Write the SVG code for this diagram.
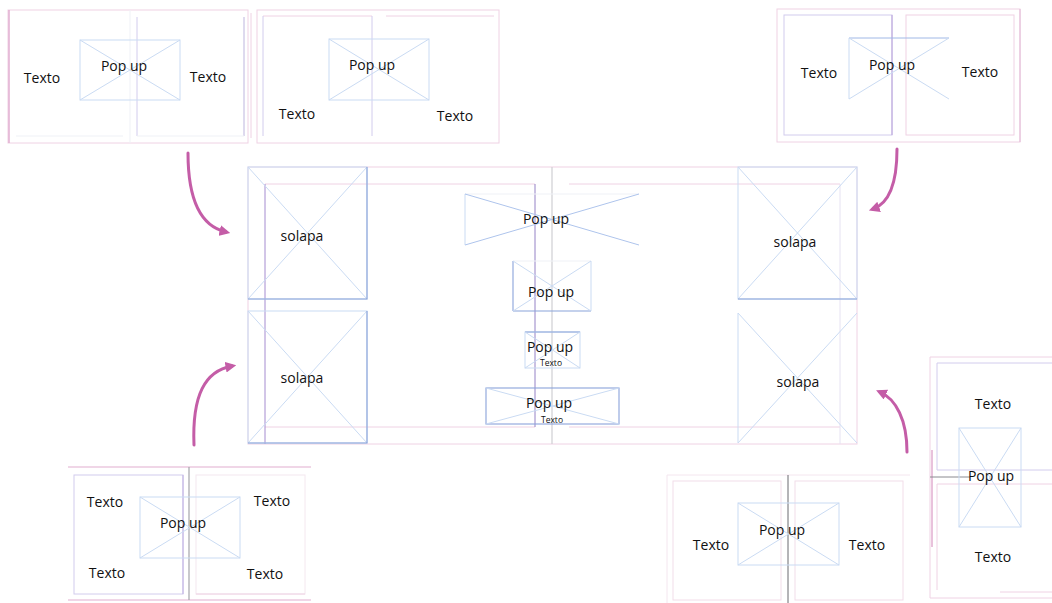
<svg xmlns="http://www.w3.org/2000/svg" width="1052" height="603" viewBox="0 0 1052 603">
<defs>
<style>
.t{font-family:"Open Sans","Noto Sans",sans-serif;font-size:14px;fill:#111;text-anchor:middle}
.ts{font-family:"Open Sans","Noto Sans",sans-serif;font-size:8.5px;fill:#111;text-anchor:middle}
.pk{fill:none;stroke:#efd2e4;stroke-width:1}
.pk2{fill:none;stroke:#e2aed0;stroke-width:1.5}
.lv{fill:none;stroke:#d2cced;stroke-width:1}
.pu{fill:none;stroke:#a58cd0;stroke-width:1}
.gr{fill:none;stroke:#cfcfd3;stroke-width:1.2}
.dk{fill:none;stroke:#6a6a70;stroke-width:1}
.bx{fill:none;stroke:#cadbf3;stroke-width:1}
.bs{fill:none;stroke:#8aa3da;stroke-width:1.1}
.fa{fill:none;stroke:#eff1f6;stroke-width:1}
.ar{fill:none;stroke:#c45da7;stroke-width:3;stroke-linecap:round}
</style>
<marker id="ah" viewBox="0 0 10 10" refX="6" refY="5" markerWidth="3.6" markerHeight="3.6" orient="auto">
<path d="M0,0 L10,5 L0,10 z" fill="#c45da7"/>
</marker>
</defs>
<rect width="1052" height="603" fill="#fff"/>

<g id="panel-top-left">
<rect class="pk" x="8" y="10" width="240" height="133"/>
<line class="pk2" x1="9" y1="10" x2="9" y2="143"/>
<line class="fa" x1="130" y1="10" x2="130" y2="143"/>
<line class="lv" x1="137" y1="17" x2="137" y2="136"/>
<line class="lv" x1="244" y1="17" x2="244" y2="136" style="stroke:#bdb5de"/>
<line class="fa" x1="16" y1="136" x2="123" y2="136"/>
<line class="fa" x1="137" y1="136" x2="244" y2="136"/>
<rect class="bx" x="80" y="40" width="100" height="60"/>
<line class="bx" x1="80" y1="40" x2="180" y2="100"/>
<line class="bx" x1="80" y1="100" x2="180" y2="40"/>
<text class="t" x="124" y="71">Pop up</text>
<text class="t" x="42" y="83">Texto</text>
<text class="t" x="208" y="82">Texto</text>
</g>

<g id="panel-top-middle">
<line class="pk" x1="251" y1="13" x2="251" y2="138"/>
<rect class="pk" x="257" y="10" width="242" height="133"/>
<line class="pk" x1="263" y1="16" x2="372" y2="16"/>
<line class="pk" x1="386" y1="16" x2="494" y2="16"/>
<line class="lv" x1="263" y1="16" x2="263" y2="136"/>
<line class="lv" x1="372" y1="16" x2="372" y2="136"/>
<rect class="bx" x="329" y="39" width="100" height="61"/>
<line class="bx" x1="329" y1="39" x2="429" y2="100"/>
<line class="bx" x1="329" y1="100" x2="429" y2="39"/>
<text class="t" x="372" y="70">Pop up</text>
<text class="t" x="297" y="119">Texto</text>
<text class="t" x="455" y="121">Texto</text>
</g>

<g id="panel-top-right">
<rect class="pk" x="777" y="9" width="243" height="133"/>
<line class="pk" x1="1020" y1="9" x2="1020" y2="142" style="stroke:#e2b8d6"/>
<rect class="lv" x="784" y="15" width="108" height="120"/>
<line class="pu" x1="892" y1="15" x2="892" y2="135" style="stroke:#b8a2da"/>
<rect class="pk" x="906" y="15" width="108" height="120"/>
<line class="bx" x1="849" y1="38" x2="949" y2="38" style="stroke:#a0b8e6"/>
<line class="bx" x1="849" y1="38" x2="849" y2="99"/>
<line class="bx" x1="849" y1="38" x2="949" y2="99"/>
<line class="bx" x1="849" y1="99" x2="949" y2="38"/>
<text class="t" x="892" y="70">Pop up</text>
<text class="t" x="819" y="78">Texto</text>
<text class="t" x="980" y="77">Texto</text>
</g>

<g id="main-layout">
<rect class="pk" x="248" y="167" width="609" height="277"/>
<line class="pk" x1="265" y1="184" x2="535" y2="184"/>
<line class="pk" x1="569" y1="184" x2="840" y2="184"/>
<line class="pk" x1="265" y1="427" x2="535" y2="427"/>
<line class="pk" x1="569" y1="427" x2="840" y2="427"/>
<line class="pu" x1="265" y1="184" x2="265" y2="444"/>
<line class="pu" x1="535" y1="184" x2="535" y2="427" style="stroke:#9582c6"/>
<line class="lv" x1="840" y1="184" x2="840" y2="444" style="stroke:#e6e2f2"/>
<line class="gr" x1="552" y1="167" x2="552" y2="444"/>
</g>

<g id="solapa-top-left">
<rect class="bx" x="248" y="167" width="119" height="132"/>
<line class="bx" x1="248" y1="167" x2="367" y2="299"/>
<line class="bx" x1="248" y1="299" x2="367" y2="167"/>
<polyline class="bs" points="367,167 367,299 248,299"/>
<text class="t" x="302" y="241">solapa</text>
</g>

<g id="solapa-bottom-left">
<rect class="bx" x="248" y="311" width="119" height="132"/>
<line class="bx" x1="248" y1="311" x2="367" y2="443"/>
<line class="bx" x1="248" y1="443" x2="367" y2="311"/>
<polyline class="bs" points="367,311 367,443 248,443"/>
<text class="t" x="302" y="383">solapa</text>
</g>

<g id="solapa-top-right">
<rect class="bx" x="738" y="167" width="119" height="132"/>
<line class="bx" x1="738" y1="167" x2="857" y2="299"/>
<line class="bx" x1="738" y1="299" x2="857" y2="167"/>
<line class="bs" x1="738" y1="299" x2="857" y2="299"/>
<text class="t" x="795" y="247">solapa</text>
</g>

<g id="solapa-bottom-right">
<line class="bx" x1="738" y1="313" x2="738" y2="443"/>
<line class="bx" x1="738" y1="313" x2="857" y2="443"/>
<line class="bx" x1="738" y1="443" x2="857" y2="313"/>
<text class="t" x="798" y="387">solapa</text>
</g>

<g id="popup-1">
<line class="fa" x1="465" y1="194" x2="639" y2="194"/>
<line class="bx" x1="465" y1="194" x2="465" y2="245"/>
<line class="bx" x1="465" y1="194" x2="639" y2="245" style="stroke:#aec4ec"/>
<line class="bx" x1="465" y1="245" x2="639" y2="194" style="stroke:#aec4ec"/>
<text class="t" x="546" y="224">Pop up</text>
</g>

<g id="popup-2">
<line class="fa" x1="513" y1="261" x2="591" y2="261"/>
<line class="bs" x1="513" y1="261" x2="513" y2="311"/>
<line class="bx" x1="591" y1="261" x2="591" y2="311"/>
<line class="bs" x1="513" y1="311" x2="591" y2="311"/>
<line class="bx" x1="513" y1="261" x2="591" y2="311"/>
<line class="bx" x1="513" y1="311" x2="591" y2="261"/>
<text class="t" x="551" y="297">Pop up</text>
</g>

<g id="popup-3">
<rect class="bx" x="525" y="332" width="55" height="36"/>
<line class="bs" x1="525" y1="332" x2="580" y2="332"/>
<line class="bx" x1="525" y1="332" x2="580" y2="368"/>
<line class="bx" x1="525" y1="368" x2="580" y2="332"/>
<text class="t" x="550" y="352">Pop up</text>
<text class="ts" x="551" y="366">Texto</text>
</g>

<g id="popup-4">
<rect class="bs" x="486" y="388" width="133" height="36"/>
<line class="bx" x1="486" y1="388" x2="619" y2="424"/>
<line class="bx" x1="486" y1="424" x2="619" y2="388"/>
<text class="t" x="549" y="408">Pop up</text>
<text class="ts" x="552" y="423">Texto</text>
</g>

<g id="panel-bottom-left">
<line class="pk2" x1="68" y1="467" x2="311" y2="467" style="stroke-width:1.2"/>
<line class="pk2" x1="68" y1="600" x2="311" y2="600" style="stroke-width:1.2"/>
<line class="gr" x1="189" y1="467" x2="189" y2="600" style="stroke:#a4a4aa"/>
<rect class="lv" x="74" y="475" width="109" height="119"/>
<line class="pu" x1="183" y1="475" x2="183" y2="594" style="stroke:#bfb0e2"/>
<rect class="pk" x="196" y="475" width="109" height="119" style="stroke:#f4e8ef"/>
<line class="pk" x1="196" y1="594" x2="305" y2="594"/>
<rect class="bx" x="140" y="497" width="100" height="61"/>
<line class="bx" x1="140" y1="497" x2="240" y2="558"/>
<line class="bx" x1="140" y1="558" x2="240" y2="497"/>
<text class="t" x="183" y="528">Pop up</text>
<text class="t" x="105" y="507">Texto</text>
<text class="t" x="272" y="506">Texto</text>
<text class="t" x="107" y="578">Texto</text>
<text class="t" x="265" y="579">Texto</text>
</g>

<g id="panel-bottom-right">
<line class="pk" x1="667" y1="475" x2="910" y2="475" style="stroke:#f4e6ef"/>
<line class="pk" x1="667" y1="475" x2="667" y2="603" style="stroke:#f4e6ef"/>
<line class="dk" x1="788" y1="475" x2="788" y2="603"/>
<rect class="pk" x="673" y="481" width="108" height="119" style="stroke:#f2dde9"/>
<rect class="pk" x="795" y="481" width="108" height="119" style="stroke:#f2dde9"/>
<rect class="bx" x="738" y="503" width="101" height="62"/>
<line class="bx" x1="738" y1="503" x2="839" y2="565"/>
<line class="bx" x1="738" y1="565" x2="839" y2="503"/>
<text class="t" x="782" y="535">Pop up</text>
<text class="t" x="711" y="550">Texto</text>
<text class="t" x="867" y="550">Texto</text>
</g>

<g id="panel-right">
<line class="pk" x1="930" y1="357" x2="1052" y2="357"/>
<line class="pk" x1="930" y1="357" x2="930" y2="598"/>
<line class="pk" x1="930" y1="598" x2="1052" y2="598"/>
<line class="pk2" x1="932" y1="450" x2="932" y2="547"/>
<polyline class="lv" points="1052,363 937,363 937,470 1052,470"/>
<polyline class="pk" points="1052,484 937,484 937,590"/>
<line class="pk" x1="1000" y1="592" x2="1052" y2="592"/>
<line class="dk" x1="930" y1="477" x2="970" y2="477" style="stroke:#8a8a90"/>
<rect class="bx" x="959" y="428" width="62" height="99"/>
<line class="bx" x1="959" y1="428" x2="1021" y2="527"/>
<line class="bx" x1="959" y1="527" x2="1021" y2="428"/>
<text class="t" x="993" y="409">Texto</text>
<text class="t" x="991" y="481">Pop up</text>
<text class="t" x="993" y="562">Texto</text>
</g>

<g id="connectors">
<path class="ar" d="M188,153 C188,198 200,226 226,232" marker-end="url(#ah)"/>
<path class="ar" d="M194,445 C192,395 205,371 232,366" marker-end="url(#ah)"/>
<path class="ar" d="M897,149 C897,182 890,203 873,209" marker-end="url(#ah)"/>
<path class="ar" d="M907,452 C907,420 896,399 880,392" marker-end="url(#ah)"/>
</g>
</svg>
